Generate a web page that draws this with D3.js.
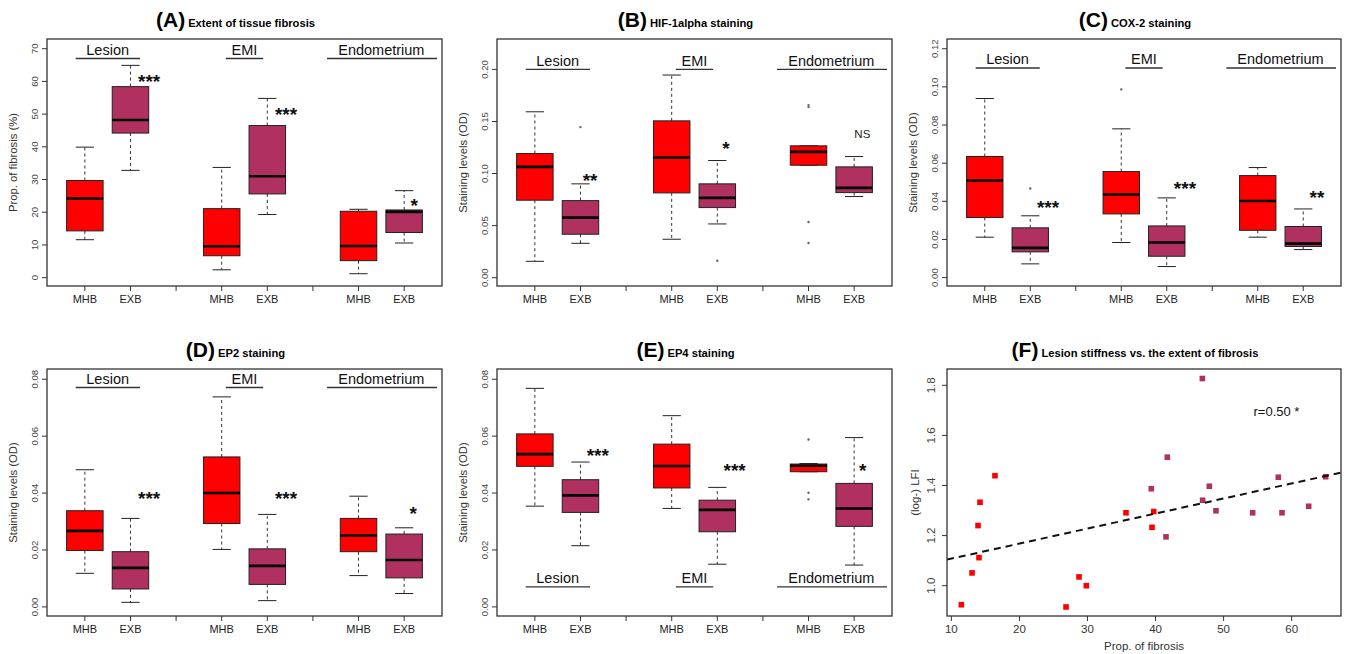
<!DOCTYPE html>
<html>
<head>
<meta charset="utf-8">
<script src="https://cdn.jsdelivr.net/npm/d3@7/dist/d3.min.js"></script>
<style>
  html, body { margin: 0; padding: 0; background: #fff; }
  svg { display: block; font-family: "Liberation Sans", Arial, sans-serif; }
</style>
</head>
<body>
<svg id="chart" width="1346" height="654"></svg>
<script>
// ---------------- DATA ----------------
const groups = ["Lesion", "EMI", "Endometrium"];
const treatments = ["MHB", "EXB"];
// box stats per box: [lowerWhisker, Q1, median, Q3, upperWhisker]
// order: Lesion MHB, Lesion EXB, EMI MHB, EMI EXB, Endometrium MHB, Endometrium EXB
const fibrosisStats = [
  [11.6, 14.3, 24.2, 29.7, 39.9],
  [32.8, 44.2, 48.2, 58.4, 64.9],
  [2.4, 6.7, 9.6, 21.1, 33.7],
  [19.3, 25.6, 31.0, 46.5, 54.8],
  [1.2, 5.2, 9.7, 20.3, 20.9],
  [10.6, 13.8, 20.1, 20.7, 26.6]
];
const fibrosisOutliers = [[], [], [], [], [], []];
const fibrosisSig = ["***", "***", "*"];
const fibrosisSigY = [61.6, 51.5, 23.6];

const hifStats = [
  [0.0157, 0.0744, 0.1064, 0.1192, 0.1593],
  [0.0330, 0.0417, 0.0577, 0.0740, 0.0901],
  [0.0369, 0.0814, 0.1154, 0.1506, 0.1946],
  [0.0516, 0.0673, 0.0766, 0.0901, 0.1125],
  [0.1080, 0.1080, 0.1208, 0.1266, 0.1266],
  [0.0779, 0.0817, 0.0862, 0.1064, 0.1163]
];
const hifOutliers = [[], [0.1446], [], [0.0163], [0.1657, 0.1638, 0.0535, 0.0333], []];
const hifSig = ["**", "*", "NS"];
const hifSigY = [0.0984, 0.1288, 0.1385];

const cox2Stats = [
  [0.0212, 0.0315, 0.0509, 0.0635, 0.0939],
  [0.0072, 0.0135, 0.0156, 0.0261, 0.0324],
  [0.0184, 0.0334, 0.0436, 0.0556, 0.0780],
  [0.0058, 0.0112, 0.0184, 0.0271, 0.0418],
  [0.0212, 0.0248, 0.0402, 0.0535, 0.0577],
  [0.0147, 0.0163, 0.0178, 0.0268, 0.0360]
];
const cox2Outliers = [[], [0.0467], [0.0987], [], [], []];
const cox2Sig = ["***", "***", "**"];
const cox2SigY = [0.0394, 0.0495, 0.0444];

const ep2Stats = [
  [0.0118, 0.0198, 0.0267, 0.0338, 0.0482],
  [0.0016, 0.0063, 0.0137, 0.0194, 0.0311],
  [0.0202, 0.0293, 0.0400, 0.0527, 0.0738],
  [0.0022, 0.0079, 0.0144, 0.0204, 0.0325],
  [0.0110, 0.0194, 0.0251, 0.0311, 0.0389],
  [0.0047, 0.0102, 0.0165, 0.0256, 0.0278]
];
const ep2Outliers = [[], [], [], [], [], []];
const ep2Sig = ["***", "***", "*"];
const ep2SigY = [0.0398, 0.0398, 0.0345];

const ep4Stats = [
  [0.0354, 0.0494, 0.0537, 0.0608, 0.0768],
  [0.0215, 0.0332, 0.0392, 0.0447, 0.0509],
  [0.0346, 0.0418, 0.0495, 0.0572, 0.0672],
  [0.0150, 0.0264, 0.0341, 0.0375, 0.0420],
  [0.0475, 0.0475, 0.0496, 0.0502, 0.0504],
  [0.0147, 0.0283, 0.0346, 0.0434, 0.0595]
];
const ep4Outliers = [[], [], [], [], [0.0588, 0.0401, 0.0378], []];
const ep4Sig = ["***", "***", "*"];
const ep4SigY = [0.0549, 0.0497, 0.0497];

const ticksA = [0, 10, 20, 30, 40, 50, 60, 70];
const ticksB = [0, 0.05, 0.10, 0.15, 0.20];
const ticksC = [0, 0.02, 0.04, 0.06, 0.08, 0.10, 0.12];
const ticksDE = [0, 0.02, 0.04, 0.06, 0.08];

// scatter (F)
const mhbFibrosis = [11.47, 13.04, 14.06, 13.92, 14.21, 16.41, 26.85, 28.76, 29.83, 35.66, 39.48, 39.73];
const mhbLFI      = [0.924, 1.051, 1.112, 1.240, 1.333, 1.439, 0.915, 1.035, 1.000, 1.291, 1.233, 1.296];
const exbFibrosis = [39.38, 41.54, 41.73, 46.88, 46.92, 47.90, 48.88, 54.27, 58.04, 58.58, 62.50, 65.00];
const exbLFI      = [1.387, 1.195, 1.513, 1.827, 1.341, 1.397, 1.299, 1.291, 1.433, 1.291, 1.317, 1.435];
const fitIntercept = 1.048;
const fitSlope = 0.0060;
const corrLabel = "r=0.50 *";
const ticksFx = [10, 20, 30, 40, 50, 60];
const ticksFy = [1.0, 1.2, 1.4, 1.6, 1.8];

// ---------------- STYLE ----------------
const colMHB = "#FF0000";
const colEXB = "#B03060";
const frameCol = "#333";
const svg = d3.select("#chart");

function drawTitle(g, cx, y, letter, text) {
  const t = g.append("text").attr("x", cx).attr("y", y)
    .attr("text-anchor", "middle").attr("font-weight", "bold").attr("fill", "#000");
  t.append("tspan").attr("font-size", "21px").text(letter);
  t.append("tspan").attr("font-size", "11.2px").attr("dx", 3).text(text);
}

function boxPanel(cfg) {
  const g = svg.append("g");
  const x = d3.scaleLinear().domain([0.17, 8.83]).range([cfg.left, cfg.right]);
  const y = d3.scaleLinear().domain(cfg.yDomain).range([cfg.bottom, cfg.top]);
  const unit = x(2) - x(1);
  const bw = 0.8 * unit;

  // title
  drawTitle(g, (cfg.left + cfg.right) / 2 - 9, cfg.top - 12.5, cfg.letter, cfg.title);

  // boxes
  const boxes = [];
  groups.forEach((gr, i) => treatments.forEach((tr, j) => {
    const k = i * 2 + j;
    boxes.push({ pos: i * 3 + j + 1, s: cfg.stats[k], out: cfg.outliers[k], col: j === 0 ? colMHB : colEXB });
  }));

  boxes.forEach(b => {
    const cx = x(b.pos);
    const [lo, q1, med, q3, hi] = b.s;
    // whiskers
    g.append("line").attr("x1", cx).attr("x2", cx).attr("y1", y(q3)).attr("y2", y(hi))
      .attr("stroke", "#333").attr("stroke-width", 1).attr("stroke-dasharray", "3,3");
    g.append("line").attr("x1", cx).attr("x2", cx).attr("y1", y(q1)).attr("y2", y(lo))
      .attr("stroke", "#333").attr("stroke-width", 1).attr("stroke-dasharray", "3,3");
    // caps
    [lo, hi].forEach(v => g.append("line")
      .attr("x1", cx - bw / 4).attr("x2", cx + bw / 4).attr("y1", y(v)).attr("y2", y(v))
      .attr("stroke", "#222").attr("stroke-width", 1));
    // box
    g.append("rect").attr("x", cx - bw / 2).attr("width", bw)
      .attr("y", y(q3)).attr("height", Math.max(0.5, y(q1) - y(q3)))
      .attr("fill", b.col).attr("stroke", "#222").attr("stroke-width", 1);
    // median
    g.append("line").attr("x1", cx - bw / 2).attr("x2", cx + bw / 2).attr("y1", y(med)).attr("y2", y(med))
      .attr("stroke", "#000").attr("stroke-width", 2.6);
    // outliers
    b.out.forEach(v => g.append("circle").attr("cx", cx).attr("cy", y(v)).attr("r", 1.2).attr("fill", "#666"));
  });

  // group labels with underline
  const ul = [[0.80, 2.21], [4.09, 4.91], [6.31, 8.72]];
  groups.forEach((gr, i) => {
    const yy = y(cfg.underline);
    g.append("line").attr("x1", x(ul[i][0])).attr("x2", x(ul[i][1])).attr("y1", yy).attr("y2", yy)
      .attr("stroke", "#333").attr("stroke-width", 1.3);
    g.append("text").attr("x", x(i * 3 + 1.5)).attr("y", yy - 3.5).attr("text-anchor", "middle")
      .attr("font-size", "14.5px").attr("fill", "#111").text(gr);
  });

  // significance marks
  cfg.sig.forEach((s, i) => {
    const yc = y(cfg.sigY[i]);
    if (s === "NS") {
      g.append("text").attr("x", x(cfg.sigX[i])).attr("y", yc + 4.1).attr("text-anchor", "middle")
        .attr("font-size", "11.5px").attr("fill", "#222").text(s);
    } else {
      g.append("text").attr("x", x(cfg.sigX[i])).attr("y", yc + 11.5).attr("text-anchor", "middle")
        .attr("font-size", "19px").attr("font-weight", "bold").attr("fill", "#111").text(s);
    }
  });

  // x axis ticks
  const xt = [1, 2, 3, 4, 5, 6, 7, 8];
  xt.forEach(p => g.append("line").attr("x1", x(p)).attr("x2", x(p))
    .attr("y1", cfg.bottom).attr("y2", cfg.bottom + 5).attr("stroke", "#333"));
  groups.forEach((gr, i) => treatments.forEach((tr, j) => {
    g.append("text").attr("x", x(i * 3 + j + 1)).attr("y", cfg.bottom + 17).attr("text-anchor", "middle")
      .attr("font-size", "11px").attr("fill", "#222").text(tr);
  }));

  // y axis ticks
  cfg.yTicks.forEach(v => {
    g.append("line").attr("x1", cfg.left - 5).attr("x2", cfg.left).attr("y1", y(v)).attr("y2", y(v))
      .attr("stroke", "#333");
    g.append("text").attr("transform", `translate(${cfg.left - 8.6},${y(v)}) rotate(-90)`)
      .attr("text-anchor", "middle").attr("font-size", "9.6px").attr("fill", "#444")
      .text(cfg.fmt(v));
  });
  g.append("text").attr("transform", `translate(${cfg.left - 30},${(cfg.top + cfg.bottom) / 2}) rotate(-90)`)
    .attr("text-anchor", "middle").attr("font-size", "11.3px").attr("fill", "#333").text(cfg.ylabel);

  // frame
  g.append("rect").attr("x", cfg.left).attr("y", cfg.top)
    .attr("width", cfg.right - cfg.left).attr("height", cfg.bottom - cfg.top)
    .attr("fill", "none").attr("stroke", frameCol).attr("stroke-width", 1.3);
}

const f0 = d3.format(".0f"), f2 = d3.format(".2f");

boxPanel({ left: 47, top: 39, right: 442, bottom: 286, yDomain: [-2.55, 72.96], yTicks: ticksA, fmt: f0,
  letter: "(A)", title: "Extent of tissue fibrosis", ylabel: "Prop. of fibrosis (%)",
  stats: fibrosisStats, outliers: fibrosisOutliers, underline: 67.0,
  sig: fibrosisSig, sigY: fibrosisSigY, sigX: [2.41, 5.41, 8.22] });

boxPanel({ left: 497, top: 39, right: 892, bottom: 286, yDomain: [-0.008, 0.2292], yTicks: ticksB, fmt: f2,
  letter: "(B)", title: "HIF-1alpha staining", ylabel: "Staining levels (OD)",
  stats: hifStats, outliers: hifOutliers, underline: 0.200,
  sig: hifSig, sigY: hifSigY, sigX: [2.21, 5.19, 8.18] });

boxPanel({ left: 947, top: 39, right: 1341, bottom: 286, yDomain: [-0.0044, 0.1251], yTicks: ticksC, fmt: f2,
  letter: "(C)", title: "COX-2 staining", ylabel: "Staining levels (OD)",
  stats: cox2Stats, outliers: cox2Outliers, underline: 0.1099,
  sig: cox2Sig, sigY: cox2SigY, sigX: [2.39, 5.40, 8.30] });

boxPanel({ left: 47, top: 369, right: 442, bottom: 616, yDomain: [-0.0032, 0.0836], yTicks: ticksDE, fmt: f2,
  letter: "(D)", title: "EP2 staining", ylabel: "Staining levels (OD)",
  stats: ep2Stats, outliers: ep2Outliers, underline: 0.0771,
  sig: ep2Sig, sigY: ep2SigY, sigX: [2.41, 5.41, 8.20] });

boxPanel({ left: 497, top: 369, right: 892, bottom: 616, yDomain: [-0.0032, 0.0836], yTicks: ticksDE, fmt: f2,
  letter: "(E)", title: "EP4 staining", ylabel: "Staining levels (OD)",
  stats: ep4Stats, outliers: ep4Outliers, underline: 0.0070,
  sig: ep4Sig, sigY: ep4SigY, sigX: [2.38, 5.38, 8.19] });

// ---------------- PANEL F ----------------
(function () {
  const L = 947, T = 369, R = 1341, B = 616;
  const g = svg.append("g");
  const x = d3.scaleLinear().domain([9.36, 67.25]).range([L, R]);
  const y = d3.scaleLinear().domain([0.879, 1.865]).range([B, T]);
  drawTitle(g, (L + R) / 2 - 9, T - 12.5, "(F)", "Lesion stiffness vs. the extent of fibrosis");

  g.append("clipPath").attr("id", "clipF").append("rect")
    .attr("x", L).attr("y", T).attr("width", R - L).attr("height", B - T);

  const sq = 5.6;
  mhbFibrosis.forEach((v, i) => g.append("rect").attr("x", x(v) - sq / 2).attr("y", y(mhbLFI[i]) - sq / 2)
    .attr("width", sq).attr("height", sq).attr("fill", colMHB));
  exbFibrosis.forEach((v, i) => g.append("rect").attr("x", x(v) - sq / 2).attr("y", y(exbLFI[i]) - sq / 2)
    .attr("width", sq).attr("height", sq).attr("fill", colEXB));

  const xd = x.domain();
  g.append("line").attr("clip-path", "url(#clipF)")
    .attr("x1", x(xd[0])).attr("y1", y(fitIntercept + fitSlope * xd[0]))
    .attr("x2", x(xd[1])).attr("y2", y(fitIntercept + fitSlope * xd[1]))
    .attr("stroke", "#111").attr("stroke-width", 2).attr("stroke-dasharray", "7,5");

  g.append("text").attr("x", x(54.4)).attr("y", y(1.695) + 4.5).attr("font-size", "13px")
    .attr("fill", "#111").text(corrLabel);

  ticksFx.forEach(v => {
    g.append("line").attr("x1", x(v)).attr("x2", x(v)).attr("y1", B).attr("y2", B + 5).attr("stroke", "#333");
    g.append("text").attr("x", x(v)).attr("y", B + 17).attr("text-anchor", "middle")
      .attr("font-size", "11.5px").attr("fill", "#333").text(v);
  });
  ticksFy.forEach(v => {
    g.append("line").attr("x1", L - 5).attr("x2", L).attr("y1", y(v)).attr("y2", y(v)).attr("stroke", "#333");
    g.append("text").attr("transform", `translate(${L - 12},${y(v)}) rotate(-90)`)
      .attr("text-anchor", "middle").attr("font-size", "11.5px").attr("fill", "#444").text(d3.format(".1f")(v));
  });
  g.append("text").attr("x", (L + R) / 2).attr("y", B + 34).attr("text-anchor", "middle")
    .attr("font-size", "11.5px").attr("fill", "#333").text("Prop. of fibrosis");
  g.append("text").attr("transform", `translate(${L - 28},${(T + B) / 2}) rotate(-90)`)
    .attr("text-anchor", "middle").attr("font-size", "11.5px").attr("fill", "#333").text("(log-) LFI");

  g.append("rect").attr("x", L).attr("y", T).attr("width", R - L).attr("height", B - T)
    .attr("fill", "none").attr("stroke", frameCol).attr("stroke-width", 1.3);
})();
</script>
</body>
</html>
